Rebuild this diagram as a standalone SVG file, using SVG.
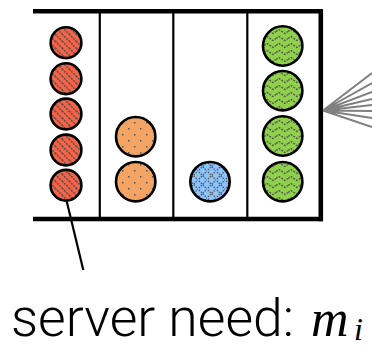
<svg xmlns="http://www.w3.org/2000/svg" width="372" height="347" viewBox="0 0 372 347">
<defs>
<style>
.ball{stroke:#000;stroke-width:2.6}
.bar{stroke:#000;stroke-width:4.6;fill:none}
.div{stroke:#000;stroke-width:2.2}
.fan{stroke:#808080;stroke-width:2;fill:none}
.lbl{font-family:Roboto,"Liberation Sans",Arial,sans-serif;font-weight:300;font-size:51px;fill:#000}
.math{font-family:"Liberation Serif","Times New Roman",serif;font-style:italic;fill:#000}
</style>
<pattern id="pRed" patternUnits="userSpaceOnUse" width="7" height="7">
<rect width="7" height="7" fill="#fa6246"/>
<path d="M-1,-1 L8,8 M-1,6 L1,8 M6,-1 L8,1" stroke="#555" stroke-width="1.6" stroke-dasharray="2,1"/>
</pattern>
<pattern id="pOrange" patternUnits="userSpaceOnUse" width="12" height="12">
<rect width="12" height="12" fill="#f4a462"/>
<rect x="2" y="2" width="1.5" height="1.5" fill="#555"/>
<rect x="8" y="8" width="1.5" height="1.5" fill="#555"/>
</pattern>
<pattern id="pBlue" patternUnits="userSpaceOnUse" width="9" height="9">
<rect width="9" height="9" fill="#8cc4ff"/>
<path d="M-1,-1 L10,10 M-1,10 L10,-1" stroke="#555" stroke-width="1.3" stroke-dasharray="1.5,1.2"/>
</pattern>
<pattern id="pGreen" patternUnits="userSpaceOnUse" width="12" height="7">
<rect width="12" height="7" fill="#8fd14b"/>
<path d="M0,3.5 L3,1.5 L6,3.5 L9,5.5 L12,3.5" stroke="#555" stroke-width="1.4" fill="none" stroke-dasharray="2,1.2"/>
</pattern>
</defs>

<g id="frame">
<line class="bar" x1="33" y1="11.3" x2="323" y2="11.3"/>
<line class="bar" x1="33" y1="219" x2="323" y2="219"/>
<line class="bar" x1="320.8" y1="9" x2="320.8" y2="221.3" stroke-width="4"/>
<line class="div" x1="99.8" y1="11" x2="99.8" y2="219"/>
<line class="div" x1="173.3" y1="11" x2="173.3" y2="219"/>
<line class="div" x1="247.3" y1="11" x2="247.3" y2="219"/>
</g>

<g id="lane1">
<circle class="ball" cx="66" cy="42.7" r="15.4" fill="url(#pRed)"/>
<circle class="ball" cx="66" cy="78.7" r="15.4" fill="url(#pRed)"/>
<circle class="ball" cx="66" cy="114" r="15.4" fill="url(#pRed)"/>
<circle class="ball" cx="66" cy="150" r="15.4" fill="url(#pRed)"/>
<circle class="ball" cx="66" cy="185.3" r="15.4" fill="url(#pRed)"/>
</g>
<g id="lane2">
<circle class="ball" cx="135.7" cy="136.7" r="19.7" fill="url(#pOrange)"/>
<circle class="ball" cx="135.7" cy="181.7" r="19.7" fill="url(#pOrange)"/>
</g>
<g id="lane3">
<circle class="ball" cx="210" cy="181.7" r="19.7" fill="url(#pBlue)"/>
</g>
<g id="lane4">
<circle class="ball" cx="282.7" cy="46" r="19.7" fill="url(#pGreen)"/>
<circle class="ball" cx="282.7" cy="90.7" r="19.7" fill="url(#pGreen)"/>
<circle class="ball" cx="282.7" cy="136" r="19.7" fill="url(#pGreen)"/>
<circle class="ball" cx="282.7" cy="181.7" r="19.7" fill="url(#pGreen)"/>
</g>

<g id="connectors">
<line x1="66.5" y1="200.5" x2="83.3" y2="270" stroke="#000" stroke-width="2.2"/>
<path class="fan" d="M323,110.5 L372,73 M323,110.5 L372,83 M323,110.5 L372,92 M323,110.5 L372,99 M323,110.5 L372,105 M323,110.5 L372,111 M323,110.5 L372,118 M323,110.5 L372,127"/>
</g>

<g id="label">
<text class="lbl" x="11" y="336" textLength="283" lengthAdjust="spacingAndGlyphs">server need:</text>
<text class="math" x="311" y="336" font-size="52">m</text>
<text class="math" x="354" y="340" font-size="32">i</text>
</g>
</svg>
